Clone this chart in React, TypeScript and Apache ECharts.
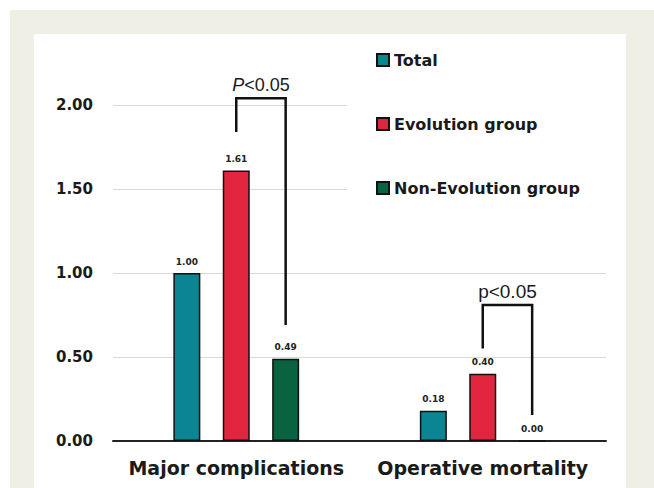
import React, { useEffect, useRef } from "react";
import * as echarts from "echarts";

const categories = ["Major complications", "Operative mortality"];
const seriesNames = ["Total", "Evolution group", "Non-Evolution group"];
const totalValues = [1.0, 0.18];
const evolutionValues = [1.61, 0.4];
const nonEvolutionValues = [0.49, 0.0];
const seriesColors = ["#0b8493", "#e2253f", "#0a6340"];
const yMin = 0;
const yMax = 2;
const yInterval = 0.5;

// significance brackets: category, bar index from / to, y of left foot, top, right foot
const bracketCategory = [0, 1];
const bracketFrom = [1, 1];
const bracketTo = [2, 2];
const bracketLeftFoot = [1.84, 0.55];
const bracketTop = [2.04, 0.81];
const bracketRightFoot = [0.69, 0.155];
const bracketText = ["{i|P}{n|<0.05}", "{m|p<0.05}"];

const BAR_WIDTH = 27;
const BAR_GAP = 0.83;

export default function App() {
  const ref = useRef<HTMLDivElement>(null);
  useEffect(() => {
    if (!ref.current) return;
    const chart = echarts.init(ref.current, null, { renderer: "svg" });
    const valueSets = [totalValues, evolutionValues, nonEvolutionValues];
    const nBars = valueSets.length;
    const step = BAR_WIDTH * (1 + BAR_GAP);
    const barOffset = (i: number) => (i - (nBars - 1) / 2) * step;

    const bracketData = bracketCategory.map((c, k) => [
      c,
      bracketTop[k],
      bracketFrom[k],
      bracketTo[k],
      bracketLeftFoot[k],
      bracketRightFoot[k],
      k,
    ]);

    const option: any = {
      animation: false,
      graphic: [
        {
          type: "rect",
          z: -20,
          silent: true,
          shape: { x: 10, y: 10, width: 650, height: 490 },
          style: { fill: "#efefe5" },
        },
        {
          type: "rect",
          z: -10,
          silent: true,
          shape: { x: 34, y: 34, width: 592, height: 460 },
          style: { fill: "#ffffff" },
        },
      ],
      grid: { left: 113, right: 48, top: 105, bottom: 47 },
      legend: {
        orient: "vertical",
        left: 347,
        top: 34,
        padding: [18, 40, 40, 29],
        backgroundColor: "#ffffff",
        itemWidth: 12,
        itemHeight: 12,
        itemGap: 48,
        icon: "rect",
        data: seriesNames,
        textStyle: {
          fontFamily: "DejaVu Sans",
          fontWeight: "bold",
          fontSize: 16,
          color: "#1a1a1a",
        },
      },
      xAxis: {
        type: "category",
        data: categories,
        axisLine: { lineStyle: { color: "#222", width: 2 } },
        axisTick: { show: false },
        axisLabel: {
          interval: 0,
          hideOverlap: false,
          margin: 17,
          fontFamily: "DejaVu Sans",
          fontWeight: "bold",
          fontSize: 19,
          color: "#1a1a1a",
        },
      },
      yAxis: {
        type: "value",
        min: yMin,
        max: yMax,
        interval: yInterval,
        axisLine: { show: false },
        axisTick: { show: false },
        splitLine: { lineStyle: { color: "#d9d9d9", width: 1 } },
        axisLabel: {
          margin: 20,
          formatter: (v: number) => v.toFixed(2),
          fontFamily: "DejaVu Sans",
          fontWeight: "bold",
          fontSize: 15,
          color: "#1a1a1a",
        },
      },
      series: [
        ...valueSets.map((vals, i) => ({
          type: "bar",
          name: seriesNames[i],
          data: vals,
          barWidth: BAR_WIDTH,
          barGap: BAR_GAP * 100 + "%",
          itemStyle: {
            color: seriesColors[i],
            borderColor: "#111",
            borderWidth: 1.5,
          },
          label: {
            show: true,
            position: "top",
            distance: 7,
            formatter: (p: any) => Number(p.value).toFixed(2),
            fontFamily: "DejaVu Sans",
            fontWeight: "bold",
            fontSize: 9,
            color: "#222",
          },
        })),
        {
          type: "custom",
          name: "brackets",
          clip: false,
          silent: true,
          encode: { x: 0, y: 1 },
          data: bracketData,
          renderItem: (params: any, api: any) => {
            const c = api.value(0);
            const top = api.value(1);
            const from = api.value(2);
            const to = api.value(3);
            const lf = api.value(4);
            const rf = api.value(5);
            const k = api.value(6);
            const pTop = api.coord([c, top]);
            const pL = api.coord([c, lf]);
            const pR = api.coord([c, rf]);
            const xL = pTop[0] + barOffset(from);
            const xR = pTop[0] + barOffset(to);
            return {
              type: "group",
              children: [
                {
                  type: "polyline",
                  shape: {
                    points: [
                      [xL, pL[1]],
                      [xL, pTop[1]],
                      [xR, pTop[1]],
                      [xR, pR[1]],
                    ],
                  },
                  style: { stroke: "#111", lineWidth: 2.5, fill: null },
                },
                {
                  type: "text",
                  x: (xL + xR) / 2,
                  y: pTop[1] - 4,
                  style: {
                    text: bracketText[k],
                    align: "center",
                    verticalAlign: "bottom",
                    fill: "#1a1a1a",
                    rich: {
                      i: {
                        fontFamily: "Liberation Sans",
                        fontStyle: "italic",
                        fontSize: 18,
                        fill: "#1a1a1a",
                      },
                      n: {
                        fontFamily: "Liberation Sans",
                        fontSize: 18,
                        fill: "#1a1a1a",
                      },
                      m: {
                        fontFamily: "Liberation Sans",
                        fontSize: 19,
                        fill: "#1a1a1a",
                      },
                    },
                  },
                },
              ],
            };
          },
        },
      ],
    };
    chart.setOption(option);
    return () => chart.dispose();
  }, []);
  return (
    <div
      style={{
        position: "fixed",
        left: 0,
        top: 0,
        width: 654,
        height: 488,
        background: "#ffffff",
      }}
    >
      <div ref={ref} style={{ width: 654, height: 488 }} />
    </div>
  );
}
